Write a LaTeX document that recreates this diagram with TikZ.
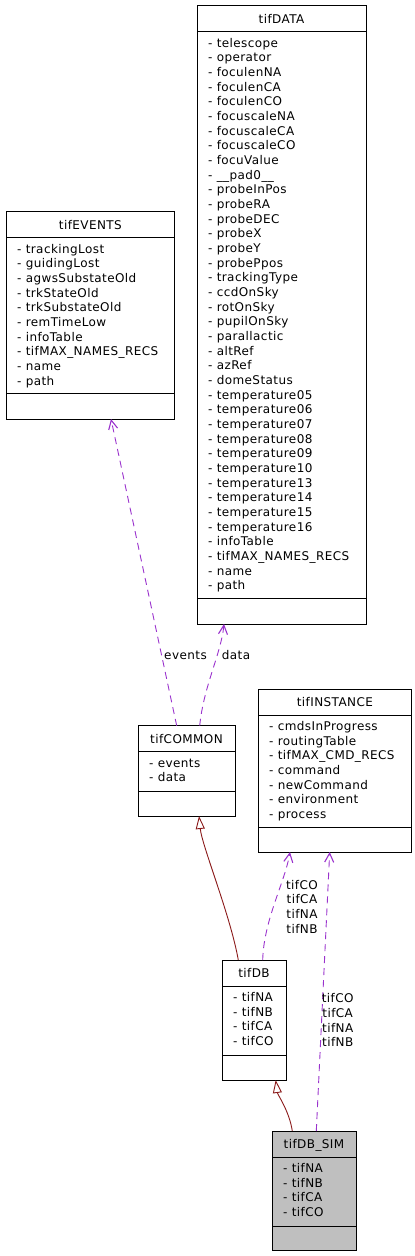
\documentclass[tikz,border=0pt]{standalone}
\usepackage{fontspec}
\setmainfont{DejaVu Sans}[LetterSpace=3.5]
\usetikzlibrary{arrows.meta}
\definecolor{purp}{HTML}{9A32CD}
\definecolor{inhcol}{HTML}{8B1A1A}
\definecolor{simgray}{HTML}{BFBFBF}
\tikzset{
  box/.style={draw=black, line width=1pt, inner sep=0pt, outer sep=0pt},
  txt/.style={inner sep=0pt, font=\fontsize{12}{14.67}\selectfont},
  dep/.style={draw=purp, line width=0.9pt, dash pattern=on 7pt off 5pt, -{Straight Barb[length=9pt,width=9pt,line width=1.1pt]}},
  inh/.style={draw=inhcol, line width=0.9pt, -{Triangle[open,fill=white,length=13pt,width=9pt]}},
  lbl/.style={txt, align=center},
}
% #1 name, #2 title, #3 left, #4 top, #5 width, #6 height, #7 sep2 offset, #8 items, #9 extra style
\newcommand\umlcls[9]{%
  \node[box,#9,anchor=north west,minimum width=#5pt,minimum height=#6pt] (#1) at (#3,#4) {};
  \draw[line width=1pt] (#3,#4+26) -- ++(#5,0);
  \draw[line width=1pt] (#3,#4+#7) -- ++(#5,0);
  \node[txt,anchor=base] (#1-title) at (#3+#5/2,#4+17.5) {#2};
  \foreach \t [count=\i] in {#8}
    \node[txt,anchor=base west] (#1-\i) at (#3+11,#4+41.5+\i*14.67-14.67) {- \t};
}
\begin{document}
\begin{tikzpicture}[x=1pt,y=-1pt]
\useasboundingbox (0,0) rectangle (415,1256);

\umlcls{data}{tifDATA}{197}{5.7}{169}{618.3}{592.5}{telescope,operator,foculenNA,foculenCA,foculenCO,focuscaleNA,focuscaleCA,focuscaleCO,focuValue,\_\_pad0\_\_,probeInPos,probeRA,probeDEC,probeX,probeY,probePpos,trackingType,ccdOnSky,rotOnSky,pupilOnSky,parallactic,altRef,azRef,domeStatus,temperature05,temperature06,temperature07,temperature08,temperature09,temperature10,temperature13,temperature14,temperature15,temperature16,infoTable,tifMAX\_NAMES\_RECS,name,path}{fill=white}

\umlcls{events}{tifEVENTS}{6}{211.7}{168.7}{207.3}{181.3}{trackingLost,guidingLost,agwsSubstateOld,trkStateOld,trkSubstateOld,remTimeLow,infoTable,tifMAX\_NAMES\_RECS,name,path}{fill=white}

\umlcls{common}{tifCOMMON}{138}{725.7}{97}{90.3}{66}{events,data}{fill=white}

\umlcls{instance}{tifINSTANCE}{258}{689}{153.7}{163}{138}{cmdsInProgress,routingTable,tifMAX\_CMD\_RECS,command,newCommand,environment,process}{fill=white}

\umlcls{db}{tifDB}{222}{960}{64}{120}{95}{tifNA,tifNB,tifCA,tifCO}{fill=white}

\umlcls{sim}{tifDB\_SIM}{272}{1131}{84}{119}{95}{tifNA,tifNB,tifCA,tifCO}{fill=simgray}

% connectors
\draw[dep] ([xshift=-9.8pt]common.north) -- ([xshift=20.65pt]events.south);
\draw[dep] ([xshift=13.2pt]common.north) .. controls +(4,-40) and +(-3,30) .. ([xshift=-57.5pt]data.south);
\draw[inh] ([xshift=-15.7pt]db.north) .. controls +(-8,-45) and +(3,30) .. ([xshift=12.5pt]common.south);
\draw[dep] ([xshift=8.7pt]db.north) .. controls +(1,-40) and +(-5,30) .. ([xshift=-44.85pt]instance.south);
\draw[inh] ([xshift=-21.7pt]sim.north) .. controls +(-3,-20) and +(2,15) .. ([xshift=21.7pt]db.south);
\draw[dep] ([xshift=2.3pt]sim.north) -- ([xshift=-5.15pt]instance.south);

% labels
\node[txt,anchor=base] (levents) at (185.5,659) {events};
\node[txt,anchor=base] (ldata) at (236,659) {data};
\node[lbl] (ldbinst) at (302,906.5) {tifCO\\tifCA\\tifNA\\tifNB};
\node[lbl] (lsiminst) at (337.7,1020.4) {tifCO\\tifCA\\tifNA\\tifNB};
\end{tikzpicture}
\end{document}
